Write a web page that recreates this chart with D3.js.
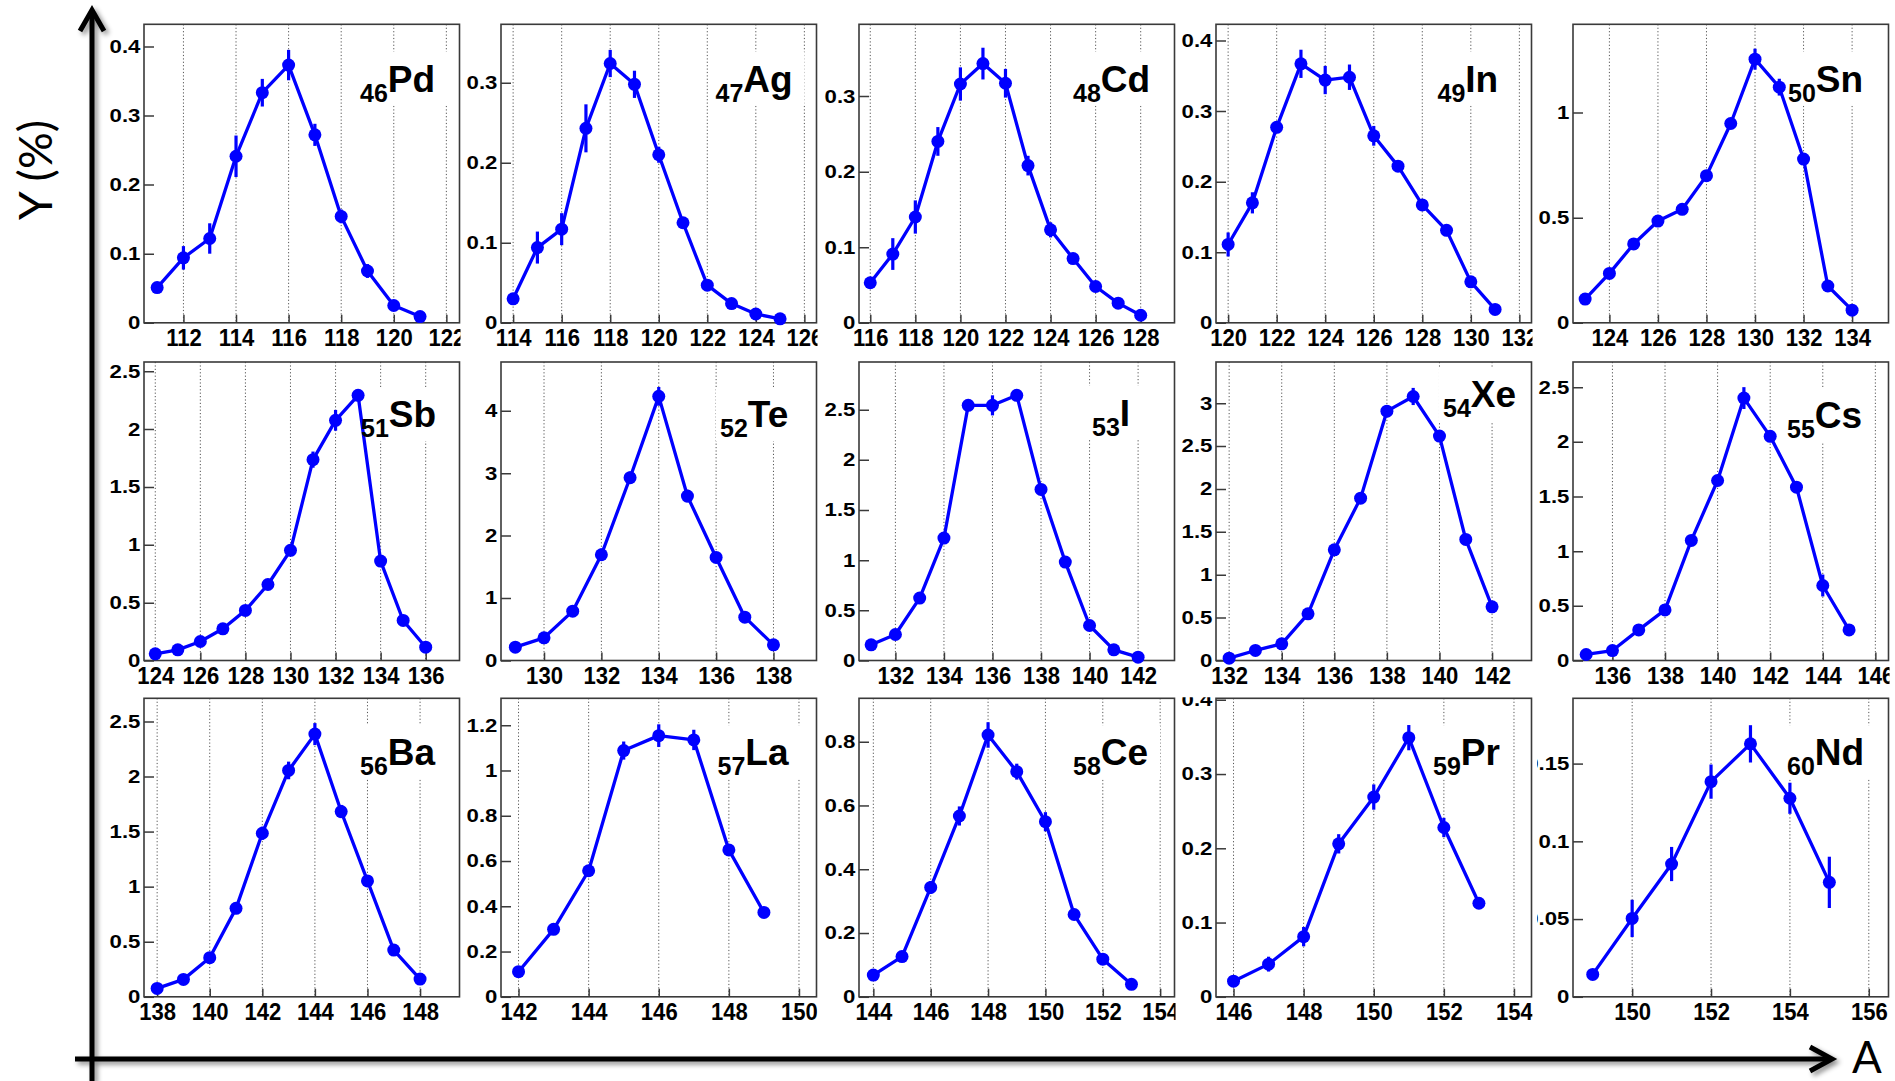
<!DOCTYPE html>
<html><head><meta charset="utf-8">
<script src="https://cdn.jsdelivr.net/npm/d3@7"></script>
<style>
html,body{margin:0;padding:0;background:#fff;}
svg{display:block;}
</style></head><body>
<svg id="chart" width="1895" height="1081"></svg>
<script>
// ---------------- DATA ----------------
const elements = ["Pd","Ag","Cd","In","Sn","Sb","Te","I","Xe","Cs","Ba","La","Ce","Pr","Nd"];
const atomicNumbers = [46,47,48,49,50,51,52,53,54,55,56,57,58,59,60];
const firstMass = [111,114,116,120,123,124,129,131,132,135,138,142,144,146,149];

const yieldPd = [0.051,0.094,0.122,0.241,0.333,0.373,0.272,0.154,0.075,0.025,0.009];
const yieldAg = [0.030,0.094,0.117,0.243,0.324,0.298,0.210,0.125,0.047,0.024,0.011,0.005];
const yieldCd = [0.053,0.091,0.140,0.240,0.316,0.343,0.317,0.208,0.123,0.085,0.048,0.026,0.010];
const yieldIn = [0.111,0.170,0.277,0.367,0.344,0.348,0.265,0.222,0.167,0.131,0.058,0.019];
const yieldSn = [0.113,0.235,0.375,0.484,0.540,0.700,0.948,1.254,1.121,0.779,0.175,0.060];
const yieldSb = [0.058,0.092,0.164,0.274,0.433,0.657,0.952,1.736,2.076,2.292,0.859,0.346,0.115];
const yieldTe = [0.214,0.363,0.790,1.693,2.927,4.230,2.633,1.650,0.694,0.251];
const yieldI  = [0.156,0.259,0.622,1.220,2.543,2.543,2.643,1.705,0.981,0.349,0.106,0.033];
const yieldXe = [0.027,0.117,0.194,0.544,1.290,1.893,2.907,3.078,2.616,1.411,0.626];
const yieldCs = [0.055,0.091,0.280,0.463,1.098,1.646,2.400,2.050,1.585,0.686,0.280];
const yieldBa = [0.076,0.158,0.355,0.803,1.485,2.055,2.385,1.682,1.052,0.424,0.161];
const yieldLa = [0.111,0.298,0.557,1.088,1.154,1.135,0.649,0.373];
const yieldCe = [0.068,0.126,0.343,0.567,0.821,0.706,0.549,0.258,0.118,0.039];
const yieldPr = [0.021,0.044,0.081,0.206,0.269,0.349,0.228,0.126];
const yieldNd = [0.0144,0.0504,0.0854,0.1384,0.1627,0.1277,0.0736];

const errPd = [0.003,0.017,0.022,0.030,0.020,0.022,0.016,0.010,0.010,0.005,0.004];
const errAg = [0.004,0.020,0.020,0.030,0.017,0.017,0.010,0.006,0.006,0.004,0.003,0.002];
const errCd = [0.006,0.021,0.022,0.019,0.022,0.021,0.019,0.013,0.010,0.007,0.005,0.004,0.003];
const errIn = [0.017,0.015,0.008,0.020,0.020,0.018,0.014,0.008,0.008,0.007,0.005,0.003];
const errSn = [0.010,0.015,0.010,0.010,0.010,0.015,0.020,0.050,0.040,0.020,0.020,0.010];
const errSb = [0.02,0.02,0.03,0.03,0.04,0.04,0.05,0.07,0.09,0.05,0.04,0.03,0.03];
const errTe = [0.05,0.06,0.08,0.10,0.10,0.15,0.10,0.08,0.06,0.05];
const errI  = [0.04,0.04,0.05,0.05,0.05,0.10,0.05,0.05,0.04,0.04,0.03,0.02];
const errXe = [0.03,0.04,0.04,0.05,0.06,0.06,0.07,0.10,0.06,0.05,0.04];
const errCs = [0.02,0.02,0.03,0.03,0.04,0.05,0.10,0.05,0.05,0.10,0.03];
const errBa = [0.03,0.03,0.04,0.05,0.06,0.08,0.10,0.06,0.05,0.04,0.03];
const errLa = [0.010,0.015,0.020,0.040,0.050,0.045,0.020,0.015];
const errCe = [0.010,0.010,0.020,0.030,0.040,0.025,0.030,0.015,0.010,0.008];
const errPr = [0.003,0.010,0.013,0.013,0.017,0.017,0.013,0.004];
const errNd = [0.002,0.012,0.011,0.011,0.012,0.010,0.0165];

const yieldSeries = [yieldPd,yieldAg,yieldCd,yieldIn,yieldSn,yieldSb,yieldTe,yieldI,yieldXe,yieldCs,yieldBa,yieldLa,yieldCe,yieldPr,yieldNd];
const errorSeries = [errPd,errAg,errCd,errIn,errSn,errSb,errTe,errI,errXe,errCs,errBa,errLa,errCe,errPr,errNd];

// axis ranges and tick labels
const xRangeMin = [110.5,113.5,115.5,119.5,122.5,123.5,128.5,130.5,131.5,134.5,137.5,141.5,143.5,145.5,148.5];
const xRangeMax = [122.5,126.5,129.5,132.5,135.5,137.5,139.5,143.5,143.5,146.5,149.5,150.5,154.5,154.5,156.5];
const yRangeMax = [0.432,0.373,0.395,0.423,1.42,2.58,4.78,2.975,3.48,2.73,2.71,1.319,0.936,0.402,0.192];
const yTickLabels = [
  ["0","0.1","0.2","0.3","0.4"],
  ["0","0.1","0.2","0.3"],
  ["0","0.1","0.2","0.3"],
  ["0","0.1","0.2","0.3","0.4"],
  ["0","0.5","1"],
  ["0","0.5","1","1.5","2","2.5"],
  ["0","1","2","3","4"],
  ["0","0.5","1","1.5","2","2.5"],
  ["0","0.5","1","1.5","2","2.5","3"],
  ["0","0.5","1","1.5","2","2.5"],
  ["0","0.5","1","1.5","2","2.5"],
  ["0","0.2","0.4","0.6","0.8","1","1.2"],
  ["0","0.2","0.4","0.6","0.8"],
  ["0","0.1","0.2","0.3","0.4"],
  ["0","0.05","0.1","0.15"]
];
const xTickStep = 2;
const yAxisTitle = "Y (%)";
const xAxisTitle = "A";

// ---------------- LAYOUT ----------------
const colLeft = [144, 501, 859, 1216, 1573];
const rowTop = [24.3, 362, 698.3];
const panelW = 315.5, panelH = 298.5;
const labelDx = [216,214.5,214,221.5,215,217,219,233,227,214,216,216.5,214,217,214];
const labelDy = [67.4,67.4,67.4,67.4,67.4,65,65,64,45,66,66.7,67,67,67,67];
const BLUE = "#0000ff";
const FRAME = "#3a3a3a";
const NUMFONT = "'Liberation Sans', Arial, Helvetica, sans-serif";

const svg = d3.select("#chart");
const defs = svg.append("defs");
const f = defs.append("filter").attr("id","shadow").attr("x","-50%").attr("y","-50%").attr("width","200%").attr("height","200%");
f.append("feDropShadow").attr("dx",3).attr("dy",3).attr("stdDeviation",2.5).attr("flood-color","#000").attr("flood-opacity",0.45);

elements.forEach((el, i) => {
  const col = i % 5, row = Math.floor(i / 5);
  const g = svg.append("g").attr("transform", `translate(${colLeft[col]},${rowTop[row]})`);
  const x = d3.scaleLinear().domain([xRangeMin[i], xRangeMax[i]]).range([0, panelW]);
  const y = d3.scaleLinear().domain([0, yRangeMax[i]]).range([panelH, 0]);
  const xt = d3.range(Math.ceil(xRangeMin[i] / xTickStep) * xTickStep, xRangeMax[i], xTickStep);
  const yt = yTickLabels[i].map(Number);
  const pts = yieldSeries[i].map((v, k) => ({a: firstMass[i] + k, v: v, e: errorSeries[i][k]}));

  defs.append("clipPath").attr("id", "cx" + i).append("rect")
    .attr("x", -60).attr("y", -20).attr("width", panelW + 61).attr("height", 60);
  defs.append("clipPath").attr("id", "cy" + i).append("rect")
    .attr("x", -36).attr("y", -1).attr("width", 60).attr("height", panelH + 25);

  // grid
  g.append("g").selectAll("line").data(xt).join("line")
    .attr("x1", d => x(d)).attr("x2", d => x(d))
    .attr("y1", 0).attr("y2", panelH)
    .attr("stroke", "#555").attr("stroke-width", 1).attr("stroke-dasharray", "1.2,2.2");

  const boxG = g.append("g");

  // frame
  g.append("rect").attr("width", panelW).attr("height", panelH)
    .attr("fill", "none").attr("stroke", FRAME).attr("stroke-width", 1.6);

  // x axis
  const xa = g.append("g").attr("transform", `translate(0,${panelH})`)
    .call(d3.axisBottom(x).tickValues(xt).tickSizeInner(-8).tickSizeOuter(0).tickPadding(6).tickFormat(d3.format("d")))
    .attr("clip-path", `url(#cx${i})`)
    .attr("font-family", NUMFONT).attr("font-size", 23).attr("font-weight", "bold");
  xa.select(".domain").remove();
  xa.selectAll("line").attr("stroke", FRAME).attr("stroke-width", 1.5);
  xa.selectAll("text").attr("fill", "#000").attr("transform", "scale(0.96,1.04)");

  // y axis
  const ya = g.append("g")
    .call(d3.axisLeft(y).tickValues(yt).tickSizeInner(-10).tickSizeOuter(0).tickPadding(3)
      .tickFormat((d, k) => yTickLabels[i][k]))
    .attr("clip-path", `url(#cy${i})`)
    .attr("font-family", NUMFONT).attr("font-size", 18.5).attr("font-weight", "bold");
  ya.select(".domain").remove();
  ya.selectAll("line").attr("stroke", FRAME).attr("stroke-width", 1.5);
  ya.selectAll("text").attr("fill", "#000").attr("transform", "scale(1.2,1)");

  // data
  g.append("path").datum(pts)
    .attr("d", d3.line().x(d => x(d.a)).y(d => y(d.v)))
    .attr("fill", "none").attr("stroke", BLUE).attr("stroke-width", 3.3).attr("stroke-linejoin", "round");
  g.append("g").selectAll("line").data(pts).join("line")
    .attr("x1", d => x(d.a)).attr("x2", d => x(d.a))
    .attr("y1", d => y(Math.max(0, d.v - d.e))).attr("y2", d => y(d.v + d.e))
    .attr("stroke", BLUE).attr("stroke-width", 3.2);
  g.append("g").selectAll("circle").data(pts).join("circle")
    .attr("cx", d => x(d.a)).attr("cy", d => y(d.v)).attr("r", 6.5).attr("fill", BLUE);

  // element label
  const tg = g.append("g").attr("font-family", NUMFONT).attr("font-weight", "bold").attr("fill", "#000");
  const sub = tg.append("text").attr("x", labelDx[i]).attr("y", labelDy[i] + 10)
    .attr("font-size", 25).text(atomicNumbers[i]);
  const sw = sub.node().getComputedTextLength();
  const main = tg.append("text").attr("x", labelDx[i] + sw).attr("y", labelDy[i])
    .attr("font-size", 37).text(el);
  const mw = main.node().getComputedTextLength();
  boxG.append("rect").attr("x", labelDx[i] - 4).attr("y", labelDy[i] - 40)
    .attr("width", sw + mw + 16).attr("height", 54).attr("fill", "#fff");
});

// big axes arrows
const ax = svg.append("g").attr("filter", "url(#shadow)").attr("stroke", "#000")
  .attr("stroke-width", 5).attr("fill", "none").attr("stroke-linejoin", "miter").attr("stroke-linecap", "butt");
ax.append("line").attr("x1", 92).attr("y1", 11).attr("x2", 92).attr("y2", 1081);
ax.append("polyline").attr("points", "80,31 92,10 104,31");
ax.append("line").attr("x1", 75).attr("y1", 1059).attr("x2", 1830).attr("y2", 1059);
ax.append("polyline").attr("points", "1810,1047 1832,1059 1810,1071");

svg.append("text").attr("transform", "translate(52,170) rotate(-90)")
  .attr("text-anchor", "middle").attr("font-family", "Lato, 'Open Sans', sans-serif")
  .attr("font-size", 46).attr("fill", "#000").text(yAxisTitle);
svg.append("text").attr("x", 1852).attr("y", 1073)
  .attr("font-family", "Lato, 'Open Sans', sans-serif")
  .attr("font-size", 44).attr("fill", "#000").text(xAxisTitle);
</script></body></html>
